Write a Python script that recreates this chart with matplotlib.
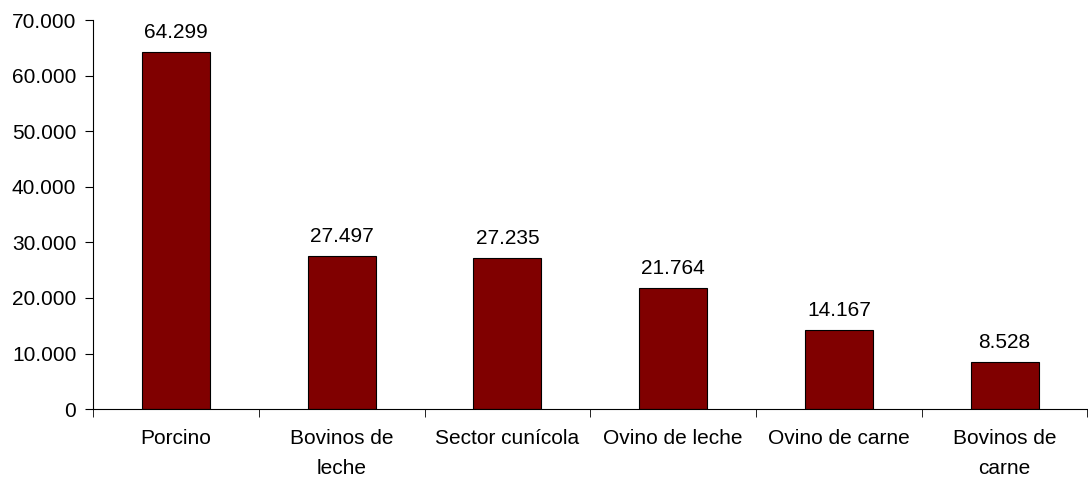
import numpy as np
import matplotlib.pyplot as plt
from matplotlib.ticker import FuncFormatter

categories = ['Porcino', 'Bovinos de\nleche', 'Sector cunícola', 'Ovino de leche',
              'Ovino de carne', 'Bovinos de\ncarne']
values = [64299, 27497, 27235, 21764, 14167, 8528]

def miles(v, pos=None):
    return f'{int(round(v)):,}'.replace(',', '.')

plt.rcParams['font.family'] = ['Liberation Sans', 'DejaVu Sans']
plt.rcParams['font.size'] = 15

fig = plt.figure(figsize=(10.88, 4.79), dpi=100)
ax = fig.add_axes([0.0855, 0.146, 0.914, 0.812])

x = np.arange(len(categories))
ax.bar(x, values, width=0.41, color='#800000', edgecolor='black', linewidth=0.8)
for xi, v in zip(x, values):
    ax.text(xi, v + 2500, miles(v), ha='center', va='baseline')

ax.set_xlim(-0.5, len(categories) - 0.5)
ax.set_ylim(0, 70000)
ax.set_yticks(np.arange(0, 70001, 10000))
ax.yaxis.set_major_formatter(FuncFormatter(miles))

ax.set_xticks(x)
ax.set_xticklabels(categories, linespacing=1.75)
ax.tick_params(axis='x', length=0, pad=14)
ax.set_xticks(np.arange(-0.5, len(categories) + 0.5, 1), minor=True)
ax.tick_params(axis='x', which='minor', length=6, direction='out')
ax.tick_params(axis='y', length=6, direction='out', pad=6)

for s in ['top', 'right']:
    ax.spines[s].set_visible(False)

fig.savefig('out.png', dpi=100)
